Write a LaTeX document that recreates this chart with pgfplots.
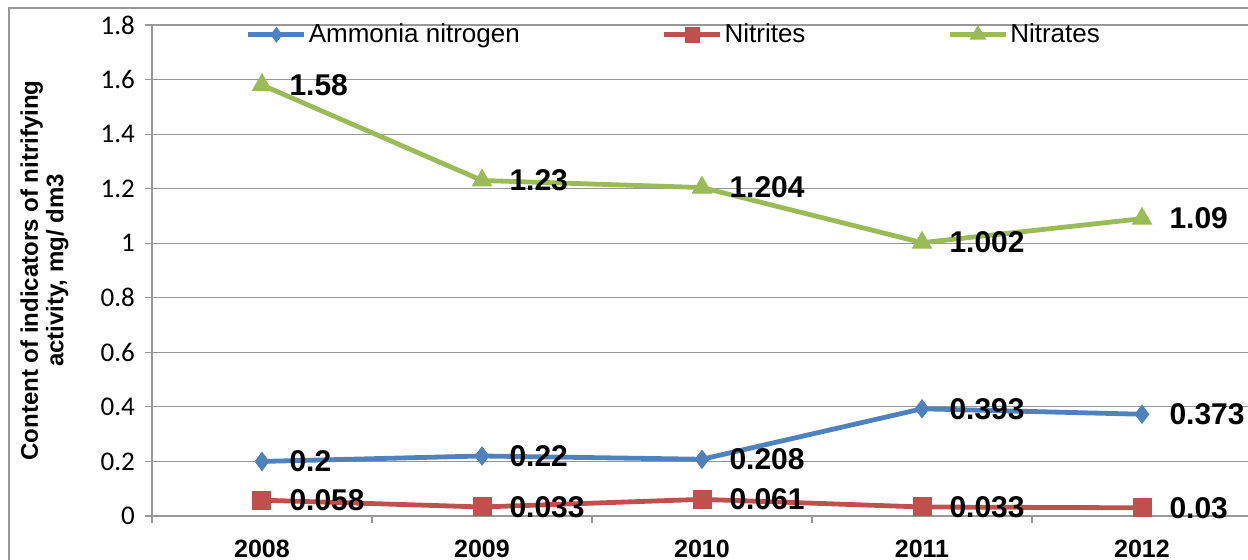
\documentclass[border=0pt]{standalone}
\usepackage{fontspec}
\setmainfont{Liberation Sans}
\newfontfamily\calibri{Carlito}
\usepackage{pgfplots}
\pgfplotsset{compat=1.18}
\definecolor{cA}{HTML}{4F81BD}
\definecolor{cN}{HTML}{C0504D}
\definecolor{cT}{HTML}{9BBB59}
\definecolor{gridc}{HTML}{989898}

\pgfplotstableread{
x y lab
0 0.2 0.2
1 0.22 0.22
2 0.208 0.208
3 0.393 0.393
4 0.373 0.373
}\ammonia
\pgfplotstableread{
x y lab
0 0.058 0.058
1 0.033 0.033
2 0.061 0.061
3 0.033 0.033
4 0.03 0.03
}\nitrites
\pgfplotstableread{
x y lab
0 1.58 1.58
1 1.23 1.23
2 1.204 1.204
3 1.002 1.002
4 1.09 1.09
}\nitrates

\begin{document}
\begin{tikzpicture}
\useasboundingbox (0,0) rectangle (624pt,280pt);
\draw[gridc, line width=0.6pt] (4.5pt,276pt) rectangle (700pt,-50pt);
\begin{axis}[
  at={(76pt,22pt)}, anchor=south west,
  scale only axis, width=550pt, height=245.5pt,
  xmin=-0.5, xmax=4.5, ymin=0, ymax=1.8,
  xtick={0,1,2,3,4}, xticklabels={2008,2009,2010,2011,2012},
  minor xtick={-0.5,0.5,1.5,2.5,3.5,4.5},
  major x tick style={draw=none},
  ytick={0,0.2,0.4,0.6,0.8,1,1.2,1.4,1.6,1.8},
  yticklabels={0,0.2,0.4,0.6,0.8,1,1.2,1.4,1.6,1.8},
  axis x line*=bottom, axis y line*=left,
  axis line style={gridc, line width=0.6pt},
  tick style={gridc, line width=0.6pt},
  tick align=outside,
  major tick length=3.5pt, minor tick length=3.5pt,
  ymajorgrids, grid style={gridc, line width=0.6pt},
  /pgf/number format/assume math mode=true,
  yticklabel style={font=\calibri\fontsize{13.5}{14}\selectfont, text=black, xshift=-1.5pt},
  xticklabel style={font=\bfseries\fontsize{12.5}{13}\selectfont, text=black, yshift=-5pt},
  ylabel={Content of indicators of nitrifying\\activity, mg/ dm3},
  ylabel style={at={(axis description cs:-0.0977,0.5)}, anchor=center, align=center,
    font=\bfseries\fontsize{12}{12.8}\selectfont},
  legend columns=3,
  legend style={at={(axis description cs:0.4745,0.98)}, anchor=center, draw=none, fill=none,
    font=\fontsize{13}{14}\selectfont, inner sep=0pt, nodes={inner xsep=1pt},
    /tikz/every even column/.append style={column sep=70pt}},
  legend cell align=left,
  legend image code/.code={\draw[mark repeat=2,mark phase=2, mark size=0.8\pgfplotmarksize] plot coordinates {(0pt,0pt)(14pt,0pt)(28pt,0pt)};},
  nodes near coords, point meta=explicit symbolic,
  nodes near coords align=horizontal,
  nodes near coords style={anchor=west, inner sep=0pt, xshift=13.5pt,
    font=\bfseries\fontsize{15}{16}\selectfont, text=black},
]
\addplot[cA, line width=2.4pt, mark=diamond*, mark size=4.5pt,
  mark options={fill=cA, draw=cA, line width=0.5pt}] table[x=x, y=y, meta=lab] {\ammonia};
\addlegendentry{Ammonia nitrogen}
\addplot[cN, line width=2.4pt, mark=square*, mark size=4.5pt,
  mark options={fill=cN, draw=cN, line width=0.5pt}] table[x=x, y=y, meta=lab] {\nitrites};
\addlegendentry{Nitrites}
\addplot[cT, line width=2.4pt, mark=triangle*, mark size=5.5pt,
  mark options={fill=cT, draw=cT, line width=0.5pt}] table[x=x, y=y, meta=lab] {\nitrates};
\addlegendentry{Nitrates}
\end{axis}
\end{tikzpicture}
\end{document}
